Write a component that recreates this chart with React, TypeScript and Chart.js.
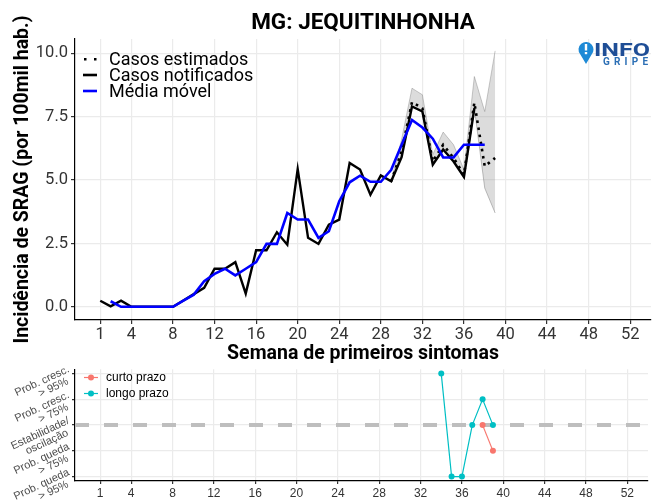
import React, { useEffect, useRef } from 'react';
import { Chart, registerables } from 'chart.js';
Chart.register(...registerables);

// ---------- data ----------
const titleText = 'MG: JEQUITINHONHA';
const xTicks = [1, 4, 8, 12, 16, 20, 24, 28, 32, 36, 40, 44, 48, 52];
const yTicksTop = [0, 2.5, 5, 7.5, 10];

const notifiedWeeks = [1, 2, 3, 4, 5, 6, 7, 8, 9, 10, 11, 12, 13, 14, 15, 16, 17, 18, 19, 20, 21, 22, 23, 24, 25, 26, 27, 28, 29, 30, 31, 32, 33, 34, 35, 36, 37];
const notifiedValues = [0.24, 0.02, 0.24, 0, 0, 0, 0, 0, 0.25, 0.5, 0.75, 1.5, 1.5, 1.76, 0.52, 2.23, 2.23, 2.94, 2.45, 5.43, 2.72, 2.48, 3.24, 3.44, 5.67, 5.41, 4.42, 5.18, 4.95, 5.9, 7.9, 7.7, 5.6, 6.2, 5.73, 5.12, 7.83];

const avgWeeks = [2, 3, 4, 5, 6, 7, 8, 9, 10, 11, 12, 13, 14, 15, 16, 17, 18, 19, 20, 21, 22, 23, 24, 25, 26, 27, 28, 29, 30, 31, 32, 33, 34, 35, 36, 37, 38];
const avgValues = [0.22, 0.0, 0, 0, 0, 0, 0, 0.24, 0.48, 1.01, 1.3, 1.5, 1.24, 1.5, 1.76, 2.48, 2.48, 3.7, 3.44, 3.44, 2.72, 2.98, 4.16, 4.91, 5.17, 4.93, 4.93, 5.4, 6.39, 7.37, 7.07, 6.63, 5.89, 5.89, 6.39, 6.39, 6.39];

const estWeeks = [29, 30, 31, 32, 33, 34, 35, 36, 37, 38, 39];
const estValues = [4.95, 6.13, 8.07, 7.83, 5.73, 6.39, 5.87, 5.21, 8.05, 5.54, 5.87];
const estLower = [4.95, 5.9, 7.9, 7.7, 5.6, 6.2, 5.73, 5.12, 7.83, 4.68, 3.7];
const estUpper = [4.97, 6.6, 8.62, 8.36, 6.0, 6.89, 6.39, 5.41, 9.08, 7.7, 10.09];

const probLevels = [2, 1, 0, -1, -2];
const probLabels = [
  ['Prob. cresc.', '> 95%'],
  ['Prob. cresc.', '> 75%'],
  ['Estabilidade/', 'oscilação'],
  ['Prob. queda', '> 75%'],
  ['Prob. queda', '> 95%'],
];
const shortWeeks = [38, 39];
const shortValues = [0, -1];
const longWeeks = [34, 35, 36, 37, 38, 39];
const longValues = [2, -2, -2, 0, 1, 0];

const legendTop = ['Casos estimados', 'Casos notificados', 'Média móvel'];
const legendBottom = ['curto prazo', 'longo prazo'];

// ---------- helpers ----------
const pts = (xs: number[], ys: number[]) => xs.map((x, i) => ({ x, y: ys[i] }));
const X_MIN = -1.43;
const X_MAX = 54;
const TEAL = '#00BFC4';
const SALMON = '#F8766D';
const GRID = '#EBEBEB';

const topPlugin = {
  id: 'topDecor',
  afterDraw(chart: any) {
    const { ctx, chartArea } = chart;
    ctx.save();
    // title
    ctx.fillStyle = '#000';
    ctx.font = "bold 22.5px Roboto";
    ctx.textAlign = 'center';
    ctx.textBaseline = 'middle';
    ctx.fillText(titleText, (chartArea.left + chartArea.right) / 2, 23);

    // legend
    const ys = [59, 75, 91];
    ctx.font = '18px Roboto';
    ctx.textAlign = 'left';
    ctx.fillStyle = '#000';
    legendTop.forEach((t, i) => ctx.fillText(t, 109, ys[i] + 1));
    ctx.fillStyle = '#000';
    ctx.fillRect(84, ys[0] - 1, 2.5, 2.5);
    ctx.fillRect(94, ys[0] - 1, 2.5, 2.5);
    ctx.lineWidth = 2.6;
    ctx.strokeStyle = '#000';
    ctx.beginPath(); ctx.moveTo(83, ys[1]); ctx.lineTo(97, ys[1]); ctx.stroke();
    ctx.strokeStyle = '#0000FF';
    ctx.beginPath(); ctx.moveTo(83, ys[2]); ctx.lineTo(97, ys[2]); ctx.stroke();

    // logo
    ctx.fillStyle = '#1E8AD6';
    ctx.beginPath();
    ctx.arc(586, 49.5, 7.5, Math.PI * 0.78, Math.PI * 0.22);
    ctx.lineTo(586, 64);
    ctx.closePath();
    ctx.fill();
    ctx.fillStyle = '#fff';
    ctx.fillRect(584.8, 44, 2.4, 6.5);
    ctx.fillRect(584.8, 52, 2.4, 2.2);

    ctx.fillStyle = '#1F4E96';
    ctx.font = 'bold 17.5px Roboto';
    ctx.textBaseline = 'alphabetic';
    const w = ctx.measureText('INFO').width;
    ctx.save();
    ctx.translate(594, 55.5);
    ctx.scale(56 / w, 1);
    ctx.fillText('INFO', 0, 0);
    ctx.restore();

    ctx.fillStyle = '#2C6FB5';
    ctx.font = 'bold 10px Roboto';
    const letters = 'GRIPE'.split('');
    const widths = letters.map((l) => ctx.measureText(l).width);
    const total = widths.reduce((a, b) => a + b, 0);
    const gap = (45 - total) / (letters.length - 1);
    let lx = 603;
    letters.forEach((l, i) => { ctx.fillText(l, lx, 64.5); lx += widths[i] + gap; });
    ctx.restore();
  },
};

const bottomPlugin = {
  id: 'bottomDecor',
  afterDraw(chart: any) {
    const { ctx, scales } = chart;
    const y = scales.y;
    ctx.save();
    ctx.font = "11px 'Liberation Sans'";
    ctx.fillStyle = '#4D4D4D';
    ctx.textAlign = 'right';
    ctx.textBaseline = 'middle';
    probLevels.forEach((lv, i) => {
      const py = y.getPixelForValue(lv);
      ctx.save();
      ctx.translate(71, py);
      ctx.rotate((-25 * Math.PI) / 180);
      ctx.fillText(probLabels[i][0], 0, -5.3);
      ctx.fillText(probLabels[i][1], -6, 5.3);
      ctx.restore();
    });

    // legend
    const ys = [15.5, 31.5];
    const cols = [SALMON, TEAL];
    ctx.textAlign = 'left';
    ctx.font = "12px 'Liberation Sans'";
    legendBottom.forEach((t, i) => {
      ctx.strokeStyle = cols[i];
      ctx.fillStyle = cols[i];
      ctx.lineWidth = 1.2;
      ctx.beginPath(); ctx.moveTo(84, ys[i]); ctx.lineTo(98, ys[i]); ctx.stroke();
      ctx.beginPath(); ctx.arc(91, ys[i], 3, 0, Math.PI * 2); ctx.fill();
      ctx.fillStyle = '#000';
      ctx.fillText(t, 106, ys[i] + 0.5);
    });
    ctx.restore();
  },
};

function topConfig(): any {
  return {
    type: 'line',
    data: {
      datasets: [
        { label: 'avg', data: pts(avgWeeks, avgValues), borderColor: '#0000FF', borderWidth: 2.6, pointRadius: 0, order: 0, tension: 0 },
        { label: 'notified', data: pts(notifiedWeeks, notifiedValues), borderColor: '#000', borderWidth: 2.4, pointRadius: 0, order: 1, tension: 0 },
        { label: 'est', data: pts(estWeeks, estValues), borderColor: '#000', borderWidth: 2.6, borderDash: [2.6, 4.6], pointRadius: 0, order: 2, tension: 0 },
        { label: 'lower', data: pts(estWeeks, estLower), borderColor: 'rgba(110,110,110,0.55)', borderWidth: 0.8, pointRadius: 0, fill: false, order: 3, tension: 0 },
        { label: 'upper', data: pts(estWeeks, estUpper), borderColor: 'rgba(110,110,110,0.45)', borderWidth: 0.8, pointRadius: 0, fill: '-1', backgroundColor: 'rgba(150,150,150,0.33)', order: 4, tension: 0 },
      ],
    },
    options: {
      animation: false,
      responsive: false,
      maintainAspectRatio: false,
      layout: { padding: { top: 39, right: 1, left: 0, bottom: 0 } },
      plugins: { legend: { display: false }, tooltip: { enabled: false }, title: { display: false } },
      scales: {
        x: {
          type: 'linear', min: X_MIN, max: X_MAX,
          afterBuildTicks: (s: any) => { s.ticks = xTicks.map((v) => ({ value: v })); },
          afterFit: (s: any) => { s.height = 44; },
          grid: { color: GRID, lineWidth: 1.2, tickColor: '#333', tickLength: 4 },
          border: { color: '#000', width: 1.2 },
          ticks: { font: { family: 'Roboto', size: 16.5 }, color: '#333', padding: 1, maxRotation: 0, autoSkip: false },
          title: { display: true, text: 'Semana de primeiros sintomas', color: '#000', font: { family: 'Roboto', size: 19.5, weight: 'bold', lineHeight: 1 }, padding: { top: 0, bottom: 0 } },
        },
        y: {
          type: 'linear', min: -0.52, max: 10.56,
          afterBuildTicks: (s: any) => { s.ticks = yTicksTop.map((v) => ({ value: v })); },
          afterFit: (s: any) => { s.width = 75; },
          grid: { color: GRID, lineWidth: 1.2, tickColor: '#333', tickLength: 4 },
          border: { color: '#000', width: 1.2 },
          ticks: { font: { family: 'Roboto', size: 16.5 }, color: '#333', padding: 3, callback: (v: number) => v.toFixed(1) },
          title: { display: true, text: 'Incidência de SRAG (por 100mil hab.)', color: '#000', font: { family: 'Roboto', size: 19.5, weight: 'bold', lineHeight: 1 }, padding: { top: 13, bottom: 0 } },
        },
      },
    },
    plugins: [topPlugin],
  };
}

function bottomConfig(): any {
  return {
    type: 'line',
    data: {
      datasets: [
        { label: 'curto', data: pts(shortWeeks, shortValues), borderColor: SALMON, backgroundColor: SALMON, borderWidth: 1.2, pointRadius: 3, pointBorderWidth: 0, order: 0, tension: 0 },
        { label: 'longo', data: pts(longWeeks, longValues), borderColor: TEAL, backgroundColor: TEAL, borderWidth: 1.2, pointRadius: 3, pointBorderWidth: 0, order: 1, tension: 0 },
        { label: 'zero', data: pts([X_MIN, X_MAX], [0, 0]), borderColor: '#BEBEBE', borderWidth: 4, borderDash: [14, 15], pointRadius: 0, order: 5, tension: 0 },
      ],
    },
    options: {
      animation: false,
      responsive: false,
      maintainAspectRatio: false,
      layout: { padding: { top: 5, right: 1, left: 0, bottom: 0 } },
      plugins: { legend: { display: false }, tooltip: { enabled: false }, title: { display: false } },
      scales: {
        x: {
          type: 'linear', min: X_MIN, max: X_MAX,
          afterBuildTicks: (s: any) => { s.ticks = xTicks.map((v) => ({ value: v })); },
          afterFit: (s: any) => { s.height = 21; },
          grid: { color: GRID, lineWidth: 1.2, tickColor: '#333', tickLength: 3 },
          border: { color: '#000', width: 1.2 },
          ticks: { font: { family: 'Liberation Sans', size: 12 }, color: '#333', padding: 2, maxRotation: 0, autoSkip: false },
        },
        y: {
          type: 'linear', min: -2.17, max: 2.17,
          afterBuildTicks: (s: any) => { s.ticks = probLevels.map((v) => ({ value: v })); },
          afterFit: (s: any) => { s.width = 75; },
          grid: { color: GRID, lineWidth: 1.2, tickColor: '#333', tickLength: 3 },
          border: { color: '#000', width: 1.2 },
          ticks: { display: true, callback: () => '', padding: 0 },
        },
      },
    },
    plugins: [bottomPlugin],
  };
}

export default function App() {
  const topRef = useRef<HTMLCanvasElement>(null);
  const botRef = useRef<HTMLCanvasElement>(null);
  useEffect(() => {
    const c1 = new Chart(topRef.current as HTMLCanvasElement, topConfig());
    const c2 = new Chart(botRef.current as HTMLCanvasElement, bottomConfig());
    return () => { c1.destroy(); c2.destroy(); };
  }, []);
  return (
    <div style={{ position: 'absolute', left: 0, top: 0, width: 652, height: 502, background: '#fff', overflow: 'hidden' }}>
      <canvas ref={topRef} width={652} height={364} style={{ position: 'absolute', left: 0, top: 0, width: 652, height: 364 }} />
      <canvas ref={botRef} width={652} height={140} style={{ position: 'absolute', left: 0, top: 362, width: 652, height: 140 }} />
    </div>
  );
}
